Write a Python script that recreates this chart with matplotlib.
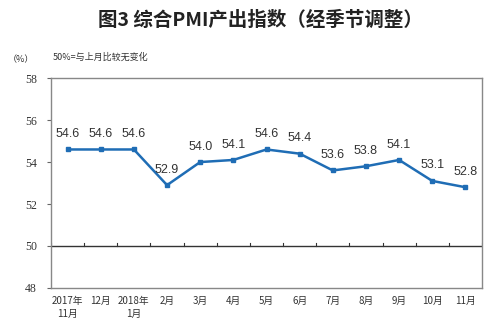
import matplotlib.pyplot as plt
import numpy as np

plt.rcParams['font.family'] = ['Noto Sans CJK SC', 'DejaVu Sans']

months = ['2017年\n11月', '12月', '2018年\n1月', '2月', '3月', '4月', '5月',
          '6月', '7月', '8月', '9月', '10月', '11月']
pmi = [54.6, 54.6, 54.6, 52.9, 54.0, 54.1, 54.6, 54.4, 53.6, 53.8, 54.1, 53.1, 52.8]
yticks = [48, 50, 52, 54, 56, 58]

fig = plt.figure(figsize=(5, 3.34), dpi=100)
ax = fig.add_axes([0.102, 0.138, 0.862, 0.628])

x = np.arange(len(months))
ax.plot(x, pmi, color='#1f6db5', lw=1.8, marker='s', markersize=3)
for xi, v in zip(x, pmi):
    ax.text(xi, v + 0.45, f'{v:.1f}', ha='center', va='bottom', fontsize=9,
            color='#333333', family=['Liberation Sans', 'DejaVu Sans'])

# 50 reference line acting as category axis
ax.axhline(50, color='#333333', lw=1.0)
for b in np.arange(len(months) + 1) - 0.5:
    ax.plot([b, b], [50, 50.12], color='#333333', lw=0.8)

ax.set_xlim(-0.5, len(months) - 0.5)
ax.set_ylim(48, 58)
ax.set_yticks(yticks)
ax.set_yticklabels([str(t) for t in yticks], fontsize=8.5,
                   family=['Liberation Serif', 'DejaVu Serif'], color='#333333')
ax.tick_params(axis='y', length=3, width=0.8, color='#666666', pad=7)
ax.set_xticks(x)
ax.set_xticklabels(months, fontsize=7, color='#333333', linespacing=1.3)
ax.tick_params(axis='x', length=0, pad=6)
for s in ax.spines.values():
    s.set_color('#888888')
    s.set_linewidth(1.0)

fig.text(0.52, 0.94, '图3 综合PMI产出指数（经季节调整）', ha='center', va='center',
         fontsize=14, fontweight='semibold', color='#222222')
fig.text(0.015, 0.82, '（%）', fontsize=6.5, color='#333333', va='center')
fig.text(0.105, 0.83, '50%=与上月比较无变化', fontsize=6.5, color='#333333', va='center')

fig.savefig('out.png', dpi=100)
